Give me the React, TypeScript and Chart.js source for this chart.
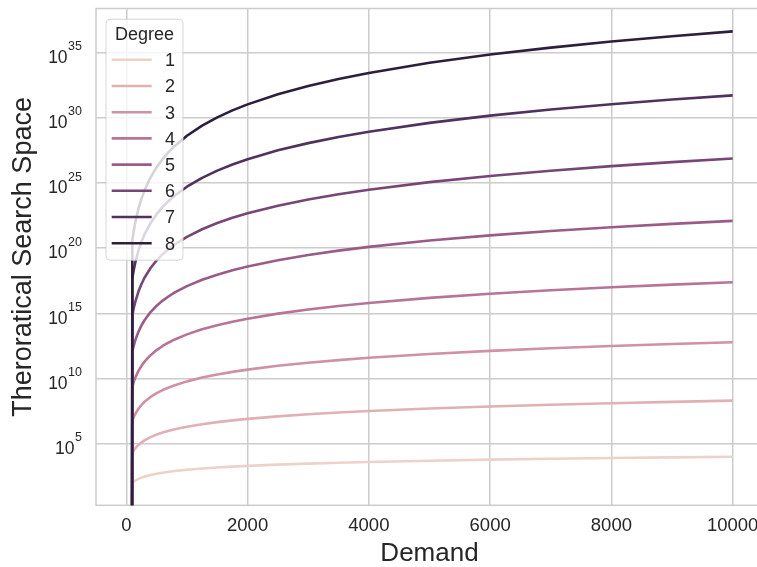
import React, { useEffect, useRef } from 'react';
import { Chart, registerables } from 'chart.js';

Chart.register(...registerables);

const FONT = "'Liberation Sans', Arial, sans-serif";
const TEXT = '#262626';
const GRID = '#cccccc';

// Demand (x) values
const demand = [0, 100, 125, 150, 200, 250, 300, 400, 500, 600, 700, 800, 1000, 1250, 1500, 1750, 2000, 2500, 3000, 3500, 4000, 5000, 6000, 7000, 8000, 9000, 10000];

const degrees = [1, 2, 3, 4, 5, 6, 7, 8];

// Theoretical search space per degree
const degree1 = [0, 100, 125, 150, 200, 250, 300, 400, 500, 600, 700, 800, 1000, 1250, 1500, 1750, 2000, 2500, 3000, 3500, 4000, 5000, 6000, 7000, 8000, 9000, 10000];
const degree2 = [0, 2e4, 3.13e4, 4.5e4, 8e4, 1.25e5, 1.8e5, 3.2e5, 5e5, 7.2e5, 9.8e5, 1.28e6, 2e6, 3.13e6, 4.5e6, 6.13e6, 8e6, 1.25e7, 1.8e7, 2.45e7, 3.2e7, 5e7, 7.2e7, 9.8e7, 1.28e8, 1.62e8, 2e8];
const degree3 = [0, 6e6, 1.17e7, 2.03e7, 4.8e7, 9.38e7, 1.62e8, 3.84e8, 7.5e8, 1.3e9, 2.06e9, 3.07e9, 6e9, 1.17e10, 2.03e10, 3.22e10, 4.8e10, 9.38e10, 1.62e11, 2.57e11, 3.84e11, 7.5e11, 1.3e12, 2.06e12, 3.07e12, 4.37e12, 6e12];
const degree4 = [0, 2.4e9, 5.86e9, 1.22e10, 3.84e10, 9.38e10, 1.94e11, 6.14e11, 1.5e12, 3.11e12, 5.76e12, 9.83e12, 2.4e13, 5.86e13, 1.22e14, 2.25e14, 3.84e14, 9.38e14, 1.94e15, 3.6e15, 6.14e15, 1.5e16, 3.11e16, 5.76e16, 9.83e16, 1.57e17, 2.4e17];
const degree5 = [0, 1.2e12, 3.66e12, 9.11e12, 3.84e13, 1.17e14, 2.92e14, 1.23e15, 3.75e15, 9.33e15, 2.02e16, 3.93e16, 1.2e17, 3.66e17, 9.11e17, 1.97e18, 3.84e18, 1.17e19, 2.92e19, 6.3e19, 1.23e20, 3.75e20, 9.33e20, 2.02e21, 3.93e21, 7.09e21, 1.2e22];
const degree6 = [0, 7.2e14, 2.75e15, 8.2e15, 4.61e16, 1.76e17, 5.25e17, 2.95e18, 1.13e19, 3.36e19, 8.47e19, 1.89e20, 7.2e20, 2.75e21, 8.2e21, 2.07e22, 4.61e22, 1.76e23, 5.25e23, 1.32e24, 2.95e24, 1.13e25, 3.36e25, 8.47e25, 1.89e26, 3.83e26, 7.2e26];
const degree7 = [0, 5.04e17, 2.4e18, 8.61e18, 6.45e19, 3.08e20, 1.1e21, 8.26e21, 3.94e22, 1.41e23, 4.15e23, 1.06e24, 5.04e24, 2.4e25, 8.61e25, 2.53e26, 6.45e26, 3.08e27, 1.1e28, 3.24e28, 8.26e28, 3.94e29, 1.41e30, 4.15e30, 1.06e31, 2.41e31, 5.04e31];
const degree8 = [0, 4.03e20, 2.4e21, 1.03e22, 1.03e23, 6.15e23, 2.65e24, 2.64e25, 1.58e26, 6.77e26, 2.32e27, 6.76e27, 4.03e28, 2.4e29, 1.03e30, 3.55e30, 1.03e31, 6.15e31, 2.65e32, 9.08e32, 2.64e33, 1.58e34, 6.77e34, 2.32e35, 6.76e35, 1.74e36, 4.03e36];

const seriesValues = [degree1, degree2, degree3, degree4, degree5, degree6, degree7, degree8];

const degreeColors = ['#edd1cb', '#e1b0b4', '#cf91a3', '#b87496', '#9a5b88', '#774576', '#51315e', '#2d1e3e'];

const xTickValues = [0, 2000, 4000, 6000, 8000, 10000];
const yTickExponents = [5, 10, 15, 20, 25, 30, 35];

const xTitle = 'Demand';
const yTitle = 'Theroratical Search Space';
const legendTitle = 'Degree';

// non-positive values are clipped far below the axis (as a log axis does)
const LOG_CLIP = 1e-300;

const framePlugin = {
  id: 'frame',
  beforeDatasetsDraw(chart: any) {
    const { ctx, chartArea: a } = chart;
    ctx.save();
    ctx.strokeStyle = GRID;
    ctx.lineWidth = 1.5;
    ctx.strokeRect(a.left, a.top, a.right - a.left, a.bottom - a.top);
    ctx.restore();
  },
};

const yLabelPlugin = {
  id: 'yLabels',
  afterDraw(chart: any) {
    const { ctx, chartArea: a } = chart;
    const ys = chart.scales.y;
    ctx.save();
    ctx.fillStyle = TEXT;
    ctx.textAlign = 'right';
    ctx.textBaseline = 'alphabetic';
    const right = a.left - 14;
    for (const e of yTickExponents) {
      const py = ys.getPixelForValue(Math.pow(10, e));
      const s = String(e);
      ctx.font = `12.5px ${FONT}`;
      const w = ctx.measureText(s).width;
      ctx.fillText(s, right, py - 2.3);
      ctx.font = `17.5px ${FONT}`;
      ctx.fillText('10', right - w - 0.5, py + 10.3);
    }
    ctx.restore();
  },
};

const legendPlugin = {
  id: 'innerLegend',
  afterDraw(chart: any) {
    const { ctx, chartArea: a } = chart;
    const bx = a.left + 10;
    const by = a.top + 10.7;
    const bw = 77;
    const bh = 241;
    ctx.save();
    ctx.beginPath();
    ctx.roundRect(bx, by, bw, bh, 4);
    ctx.fillStyle = 'rgba(255,255,255,0.8)';
    ctx.fill();
    ctx.strokeStyle = 'rgba(204,204,204,0.8)';
    ctx.lineWidth = 1;
    ctx.stroke();

    ctx.fillStyle = TEXT;
    ctx.font = `18px ${FONT}`;
    ctx.textAlign = 'center';
    ctx.textBaseline = 'alphabetic';
    ctx.fillText(legendTitle, bx + bw / 2, by + 20.6);

    ctx.textAlign = 'left';
    degrees.forEach((d, i) => {
      const ly = by + 40.6 + i * 26.2;
      ctx.beginPath();
      ctx.moveTo(bx + 5.7, ly);
      ctx.lineTo(bx + 45.7, ly);
      ctx.strokeStyle = degreeColors[i];
      ctx.lineWidth = 2.6;
      ctx.lineCap = 'butt';
      ctx.stroke();
      ctx.fillStyle = TEXT;
      ctx.font = `18px ${FONT}`;
      ctx.fillText(String(d), bx + 59, ly + 6.4);
    });
    ctx.restore();
  },
};

export default function App() {
  const ref = useRef<HTMLCanvasElement>(null);

  useEffect(() => {
    if (!ref.current) return;
    const datasets = degrees.map((d, i) => ({
      label: String(d),
      data: demand.map((x, j) => ({ x, y: seriesValues[i][j] > 0 ? seriesValues[i][j] : LOG_CLIP })),
      borderColor: degreeColors[i],
      backgroundColor: degreeColors[i],
      borderWidth: 2.6,
      pointRadius: 0,
      tension: 0,
      fill: false,
      clip: 0,
      borderJoinStyle: 'round' as const,
      order: degrees.length - d,
    }));

    const chart = new Chart(ref.current, {
      type: 'line',
      data: { datasets },
      options: {
        animation: false,
        responsive: false,
        maintainAspectRatio: false,
        devicePixelRatio: 1,
        layout: { padding: { top: 8.5, right: 17, left: 0, bottom: 0 } },
        plugins: {
          legend: { display: false },
          tooltip: { enabled: false },
        },
        scales: {
          x: {
            type: 'linear',
            min: -500,
            max: 10500,
            afterBuildTicks: (s: any) => {
              s.ticks = xTickValues.map((v) => ({ value: v }));
            },
            afterFit: (s: any) => {
              s.height = 61.7;
            },
            ticks: {
              autoSkip: false,
              maxRotation: 0,
              padding: 10,
              color: TEXT,
              font: { family: FONT, size: 18.5 },
              callback: (v: any) => String(v),
            },
            grid: { color: GRID, lineWidth: 1.5, drawTicks: false },
            border: { display: false },
            title: {
              display: true,
              text: xTitle,
              color: TEXT,
              font: { family: FONT, size: 26, lineHeight: 1 },
              padding: { top: 0, bottom: 0 },
            },
          },
          y: {
            type: 'logarithmic',
            min: 1.9,
            max: 2.3e38,
            afterBuildTicks: (s: any) => {
              s.ticks = yTickExponents.map((e) => ({ value: Math.pow(10, e) }));
            },
            afterFit: (s: any) => {
              s.width = 96;
            },
            ticks: { display: false },
            grid: { color: GRID, lineWidth: 1.5, drawTicks: false },
            border: { display: false },
            title: {
              display: true,
              text: yTitle,
              color: TEXT,
              font: { family: FONT, size: 27, lineHeight: 1 },
              padding: { top: 10.5, bottom: 0 },
            },
          },
        },
      },
      plugins: [framePlugin, yLabelPlugin, legendPlugin],
    });
    return () => chart.destroy();
  }, []);

  return (
    <div style={{ position: 'fixed', left: 0, top: 0, width: 757, height: 567, overflow: 'hidden', background: '#ffffff' }}>
      <canvas ref={ref} width={780} height={567} style={{ display: 'block', width: 780, height: 567 }} />
    </div>
  );
}
